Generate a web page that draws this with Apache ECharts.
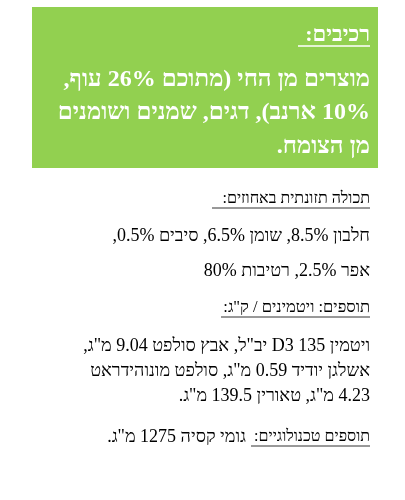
<!DOCTYPE html>
<html dir="rtl"><head><meta charset="utf-8">
<script src="https://cdn.jsdelivr.net/npm/echarts@6/dist/echarts.min.js"></script>
<style>html,body{margin:0;padding:0;background:#fff}#c{width:405px;height:500px}</style>
</head><body><div id="c"></div>
<script>
const boxTitle = 'רכיבים:';
const boxLines = ['מוצרים מן החי (מתוכם 26% עוף,', '10% ארנב), דגים, שמנים ושומנים', 'מן הצומח.'];
const boxLineY = [80, 113, 147];
const bodyLines = [
  {t:'תכולה תזונתית באחוזים:', y:199, ul:[212,370], s:16},
  {t:'חלבון 8.5%, שומן 6.5%, סיבים 0.5%,', y:236, s:18},
  {t:'אפר 2.5%, רטיבות 80%', y:271, s:18},
  {t:'תוספים: ויטמינים / ק"ג:', y:308, ul:[221,370], s:16.5},
  {t:'ויטמין D3 135 יב"ל, אבץ סולפט 9.04 מ"ג,', y:346, s:18},
  {t:'אשלגן יודיד 0.59 מ"ג, סולפט מונוהידראט', y:371, s:18},
  {t:'4.23 מ"ג, טאורין 139.5 מ"ג.', y:396, s:18}
];
const lastHead = 'תוספים טכנולוגיים:';
const lastRest = 'גומי קסיה 1275 מ"ג.';
const font = '"Liberation Serif","DejaVu Serif",serif';
const g = [];
g.push({type:'rect', shape:{x:32,y:7,width:346,height:161}, style:{fill:'#92D050'}});
g.push({type:'text', x:370, y:35, style:{text:boxTitle, fill:'#fff', font:'bold 22px '+font, textAlign:'right', textVerticalAlign:'middle'}});
g.push({type:'line', shape:{x1:298,y1:46,x2:370,y2:46}, style:{stroke:'#fff', lineWidth:1.5}});
boxLines.forEach((t,i)=>g.push({type:'text', x:370, y:boxLineY[i], style:{text:t, fill:'#fff', font:'bold 24px '+font, textAlign:'right', textVerticalAlign:'middle'}}));
bodyLines.forEach(l=>{
  g.push({type:'text', x:370, y:l.y, style:{text:l.t, fill:'#000', font:l.s+'px '+font, textAlign:'right', textVerticalAlign:'middle'}});
  if(l.ul) g.push({type:'line', shape:{x1:l.ul[0],y1:l.y+9,x2:l.ul[1],y2:l.y+9}, style:{stroke:'#333', lineWidth:1}});
});
g.push({type:'text', x:370, y:437, style:{text:lastHead, fill:'#000', font:'16px '+font, textAlign:'right', textVerticalAlign:'middle'}});
g.push({type:'text', x:246, y:437, style:{text:lastRest, fill:'#000', font:'18px '+font, textAlign:'right', textVerticalAlign:'middle'}});
g.push({type:'line', shape:{x1:251,y1:446,x2:370,y2:446}, style:{stroke:'#333', lineWidth:1}});
const chart = echarts.init(document.getElementById('c'));
chart.setOption({backgroundColor:'#fff', graphic:g});
</script></body></html>
